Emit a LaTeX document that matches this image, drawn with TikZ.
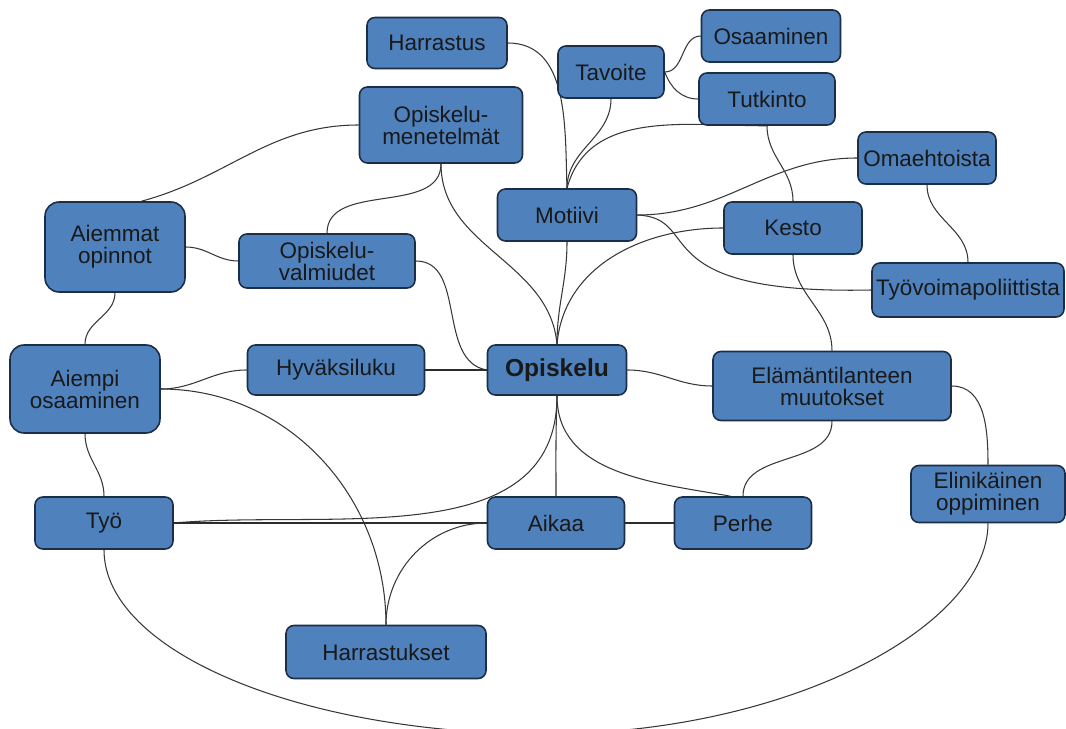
\documentclass[tikz,border=0pt]{standalone}
\usepackage{fontspec}
\setmainfont{Liberation Sans}
\usetikzlibrary{backgrounds}
\definecolor{boxblue}{RGB}{79,129,189}
\definecolor{boxline}{RGB}{28,45,72}
\definecolor{wire}{RGB}{55,55,55}
\begin{document}
\begin{tikzpicture}[x=0.02cm,y=0.02cm,
  box/.style={draw=boxline,fill=boxblue,line width=0.9pt,rounded corners=4.5pt,
    minimum width=2.76cm,minimum height=1.04cm,align=center,inner sep=1pt,
    font=\fontsize{12.8}{12.5}\selectfont,text=black!90},
  bigbox/.style={box,rounded corners=8pt},
  wire/.style={draw=wire,line width=0.6pt},
  heavy/.style={draw=wire!80!black,line width=1.4pt}]
\useasboundingbox (0,-729) rectangle (1066,0);
% nodes
\node[box,minimum width=2.8cm,minimum height=1.02cm] (harrastus) at (437,-43) {Harrastus};
\node[box,minimum width=3.26cm,minimum height=1.52cm] (menetelmat) at (441,-125) {Opiskelu-\\menetelmät};
\node[box,minimum width=2.12cm] (tavoite) at (611,-72) {Tavoite};
\node[box,minimum width=2.78cm] (osaaminen) at (771,-36) {Osaaminen};
\node[box,minimum width=2.72cm] (tutkinto) at (767,-99) {Tutkinto};
\node[box] (omaehtoista) at (927,-158) {Omaehtoista};
\node[box,minimum width=2.78cm] (motiivi) at (567,-215) {Motiivi};
\node[box] (kesto) at (793,-228) {Kesto};
\node[box,minimum width=3.84cm,minimum height=1.08cm] (tyovoima) at (968,-290) {Työvoimapoliittista};
\node[bigbox,minimum width=2.8cm,minimum height=1.8cm] (aiemmat) at (115,-247) {Aiemmat\\opinnot};
\node[box,minimum width=3.52cm,minimum height=1.08cm] (valmiudet) at (327,-261) {Opiskelu-\\valmiudet};
\node[bigbox,minimum width=3.0cm,minimum height=1.76cm] (aiempi) at (85,-389) {Aiempi\\osaaminen};
\node[box,minimum width=3.54cm,minimum height=1.0cm] (hyvaksiluku) at (336,-370) {Hyväksiluku};
\node[box,minimum width=2.78cm,minimum height=1.0cm,font=\fontsize{14}{14}\selectfont\bfseries] (opiskelu) at (557,-370) {Opiskelu};
\node[box,minimum width=4.76cm,minimum height=1.38cm] (elaman) at (832,-386) {Elämäntilanteen\\muutokset};
\node[box,minimum width=3.08cm,minimum height=1.14cm] (elinikainen) at (988,-494) {Elinikäinen\\oppiminen};
\node[box] (tyo) at (104,-523) {Työ};
\node[box,minimum width=2.74cm] (aikaa) at (556,-523) {Aikaa};
\node[box,minimum width=2.74cm] (perhe) at (743,-523) {Perhe};
\node[box,minimum width=4.0cm,minimum height=1.06cm] (harrastukset) at (386,-652) {Harrastukset};
\coordinate (arcbottom) at (544,-734);
% connectors
\begin{scope}[on background layer]
\draw[wire] (harrastus.east) to[out=0,in=92] (motiivi.north);
\draw[wire] (tavoite.south) to[out=-90,in=90] (motiivi.north);
\draw[wire] (tavoite.east) to[out=0,in=180] (osaaminen.west);
\draw[wire] (tavoite.east) to[out=-70,in=180] (tutkinto.west);
\draw[wire] (tutkinto.south) to[out=180,in=75] (motiivi.north);
\draw[wire] (tutkinto.south) to[out=-90,in=90] (kesto.north);
\draw[wire] (omaehtoista.west) to[out=180,in=0] (motiivi.east);
\draw[wire] (omaehtoista.south) to[out=-90,in=90] (tyovoima.north);
\draw[wire] (motiivi.east) .. controls (705,-218) and (640,-295) .. (tyovoima.west);
\draw[wire] (motiivi.south) to[out=-90,in=90] (opiskelu.north);
\draw[wire] (kesto.west) to[out=180,in=85] (opiskelu.north);
\draw[wire] (kesto.south) to[out=-90,in=90] (elaman.north);
\draw[wire] (menetelmat.west) to[out=180,in=15] (aiemmat.60);
\draw[wire] (menetelmat.south) to[out=-90,in=90] (valmiudet.north);
\draw[wire] (menetelmat.south) to[out=-90,in=95] (opiskelu.north);
\draw[wire] (aiemmat.east) to[out=0,in=180] (valmiudet.west);
\draw[wire] (valmiudet.east) to[out=0,in=170] (opiskelu.west);
\draw[wire] (aiemmat.south) to[out=-90,in=90] (aiempi.north);
\draw[wire] (aiempi.east) to[out=0,in=180] (hyvaksiluku.west);
\draw[heavy] (hyvaksiluku.east) -- (opiskelu.west);
\draw[wire] (aiempi.east) to[out=0,in=90] (harrastukset.north);
\draw[wire] (aiempi.south) to[out=-90,in=90] (tyo.north);
\draw[wire] (opiskelu.east) to[out=0,in=180] (elaman.west);
\draw[wire] (opiskelu.south) to[out=-90,in=5] (tyo.east);
\draw[wire] (opiskelu.south) to[out=-92,in=90] (aikaa.north);
\draw[wire] (opiskelu.south) to[out=-90,in=170] (perhe.115);
\draw[wire] (elaman.south) to[out=-90,in=90] (perhe.north);
\draw[heavy] (tyo.east) -- (aikaa.west);
\draw[heavy] (aikaa.east) -- (perhe.west);
\draw[wire] (aikaa.west) to[out=180,in=90] (harrastukset.north);
\draw[wire] (elaman.east) to[out=0,in=90] (elinikainen.north);
\draw[wire] (tyo.south) .. controls +(0,-102) and +(-243,0) .. (arcbottom)
  .. controls +(247,0) and +(0,-102) .. (elinikainen.south);
\end{scope}
\end{tikzpicture}
\end{document}
